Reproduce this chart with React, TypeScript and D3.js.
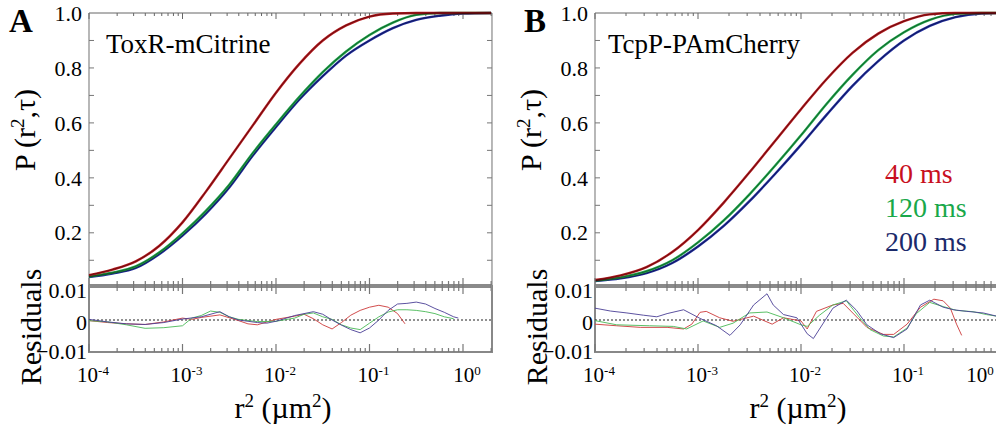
import { useEffect, useRef } from 'react';
import * as d3 from 'd3';

const W = 996;
const H = 428;
const FONT = "'Liberation Serif', 'Times New Roman', Times, serif";

// log10(r²) positions for the cumulative distribution curves
const cdfLogR2 = [-4, -3.75, -3.5, -3.25, -3, -2.75, -2.5, -2.25, -2, -1.75, -1.5, -1.25, -1, -0.75, -0.5, -0.25, 0, 0.3];

// panel A, ToxR-mCitrine
const cdfA40 = [0.046, 0.066, 0.096, 0.152, 0.238, 0.35, 0.47, 0.59, 0.71, 0.815, 0.9, 0.955, 0.987, 0.998, 1, 1, 1, 1];
const cdfA120 = [0.041, 0.055, 0.078, 0.128, 0.198, 0.28, 0.375, 0.49, 0.595, 0.695, 0.785, 0.86, 0.92, 0.965, 0.993, 1, 1, 1];
const cdfA200 = [0.039, 0.052, 0.072, 0.122, 0.19, 0.27, 0.365, 0.48, 0.585, 0.685, 0.77, 0.845, 0.9, 0.945, 0.975, 0.99, 0.998, 1];

// panel B, TcpP-PAmCherry
const cdfB40 = [0.028, 0.045, 0.075, 0.13, 0.21, 0.31, 0.42, 0.535, 0.65, 0.76, 0.855, 0.925, 0.97, 0.995, 1, 1, 1, 1];
const cdfB120 = [0.026, 0.038, 0.06, 0.1, 0.165, 0.245, 0.34, 0.445, 0.555, 0.67, 0.775, 0.865, 0.93, 0.975, 0.997, 1, 1, 1];
const cdfB200 = [0.024, 0.034, 0.053, 0.09, 0.15, 0.225, 0.315, 0.415, 0.52, 0.63, 0.735, 0.825, 0.9, 0.953, 0.985, 0.998, 1, 1];

// residuals, values in units of 1e-3
const resA40X = [-4, -3.8, -3.6, -3.4, -3.2, -3.0, -2.9, -2.8, -2.6, -2.4, -2.3, -2.2, -2.0, -1.8, -1.7, -1.6, -1.5, -1.4, -1.3, -1.2, -1.1, -1.0, -0.9, -0.8, -0.7, -0.62];
const resA40 = [-0.2, -0.8, -1.2, -1.4, -0.6, 0.6, 0.2, 0.8, 1.6, -0.2, -1.2, -1.5, 0.2, 1.2, 1.8, 0.4, -1.5, -2.8, -0.8, 1.5, 3.0, 4.0, 4.6, 4.0, 2.0, -1.2];
const resA120X = [-4, -3.8, -3.6, -3.4, -3.2, -3.0, -2.9, -2.8, -2.7, -2.6, -2.5, -2.4, -2.2, -2.0, -1.8, -1.7, -1.6, -1.5, -1.4, -1.3, -1.2, -1.1, -1.0, -0.9, -0.8, -0.7, -0.6, -0.5, -0.4, -0.3, -0.2, -0.1];
const resA120 = [-0.2, -0.6, -1.5, -2.6, -2.4, -1.8, 0.6, 1.4, 2.8, 2.4, 1.0, 0.2, -0.5, -0.4, 0.6, 1.8, 2.2, 1.0, 0.2, -1.5, -2.5, -3.0, -1.0, 1.0, 2.5, 3.2, 3.2, 3.0, 2.6, 2.0, 1.0, 0.4];
const resA200X = [-4, -3.8, -3.6, -3.4, -3.2, -3.0, -2.8, -2.6, -2.5, -2.4, -2.2, -2.1, -2.0, -1.8, -1.6, -1.5, -1.4, -1.3, -1.2, -1.1, -1.0, -0.9, -0.8, -0.7, -0.6, -0.5, -0.4, -0.3, -0.2, -0.1, -0.05];
const resA200 = [0.2, -0.6, -1.2, -1.4, -0.8, 0.3, 1.0, 2.6, 1.0, 0.0, -0.8, -1.0, -0.4, 1.4, 2.6, 1.8, 0.0, -1.6, -3.0, -4.0, -2.5, 0.0, 3.0, 5.0, 5.2, 5.6, 5.0, 3.6, 2.4, 1.0, 0.6];

const resB40X = [-4, -3.79, -3.56, -3.3, -3.14, -3.06, -2.98, -2.92, -2.79, -2.66, -2.46, -2.28, -2.17, -2.0, -1.94, -1.85, -1.69, -1.59, -1.43, -1.36, -1.2, -1.1, -0.97, -0.84, -0.71, -0.62, -0.55, -0.49, -0.44];
const resB40 = [-1.3, -1.8, -2.3, -2.3, -2.8, -1.3, 2.4, 2.7, 0.7, -0.4, 1.2, -1.3, 0.7, -0.3, -2.8, 2.7, 4.7, 5.2, 0.0, -2.3, -4.5, -4.5, -1.3, 4.0, 6.5, 6.0, 3.7, -1.3, -4.8];
const resB120X = [-4, -3.79, -3.47, -3.24, -3.11, -2.95, -2.79, -2.66, -2.5, -2.33, -2.17, -2.0, -1.94, -1.82, -1.69, -1.56, -1.43, -1.33, -1.2, -1.1, -0.97, -0.88, -0.75, -0.62, -0.49, -0.33, -0.2, -0.1];
const resB120 = [-0.2, -1.5, -1.8, -2.0, -2.8, -0.3, -2.3, -1.0, 2.2, 2.5, 0.7, -1.5, -2.0, 1.5, 4.7, 6.0, 0.7, -3.0, -5.0, -5.3, -2.5, 2.0, 5.5, 4.2, 3.0, 2.6, 1.7, 1.2];
const resB200X = [-4, -3.85, -3.69, -3.53, -3.4, -3.3, -3.14, -2.98, -2.82, -2.69, -2.59, -2.46, -2.33, -2.27, -2.17, -2.04, -1.94, -1.88, -1.75, -1.69, -1.56, -1.46, -1.36, -1.23, -1.1, -0.97, -0.84, -0.75, -0.62, -0.52, -0.39, -0.23, -0.1];
const resB200 = [3.7, 2.8, 2.2, 1.5, 1.0, 2.0, 3.2, 0.5, -1.8, -4.8, -1.5, 4.7, 8.2, 4.7, 1.7, 0.7, -4.3, -5.8, 0.7, 3.7, 6.2, 3.0, -1.5, -4.3, -5.5, -2.8, 4.7, 6.2, 4.0, 3.2, 2.7, 2.2, 1.2];

const lagLabels = ['40 ms', '120 ms', '200 ms'];
const yTickValues = [0.2, 0.4, 0.6, 0.8, 1.0];
const resTickValues = [0.01, 0, -0.01];

const lineColors = ['#b3171c', '#1fa54a', '#1f2b9c'];
const resColors = ['#cc3a3a', '#49b956', '#4a3f96'];
const legendColors = ['#c8101e', '#19a84a', '#1b2a6b'];

const panels = [
  {
    letter: 'A', letterX: 9, title: 'ToxR-mCitrine', titleX: 106, x0: 89, decade: 93.5,
    yLabelX: 35, xLabelX: 283,
    cdf: [cdfA40, cdfA120, cdfA200],
    res: [[resA40X, resA40], [resA120X, resA120], [resA200X, resA200]],
    legend: false,
  },
  {
    letter: 'B', letterX: 524, title: 'TcpP-PAmCherry', titleX: 608, x0: 595, decade: 103,
    yLabelX: 541, xLabelX: 798,
    cdf: [cdfB40, cdfB120, cdfB200],
    res: [[resB40X, resB40], [resB120X, resB120], [resB200X, resB200]],
    legend: true,
  },
];

const TOP = 13;
const SEP = 285;
const RES_BOTTOM = 352;

const App = () => {
  const svgRef = useRef<SVGSVGElement>(null);

  useEffect(() => {
    const svg = d3.select(svgRef.current);
    svg.selectAll('*').remove();

    const yTop = d3.scaleLinear().domain([0.01, 1]).range([SEP, TOP]);
    const yRes = d3.scaleLinear().domain([-0.01, 0.01]).range([RES_BOTTOM, 288]);

    panels.forEach((p) => {
      const xEnd = p.x0 + 4.31 * p.decade;
      const x = d3.scaleLog().domain([1e-4, Math.pow(10, 0.31)]).range([p.x0, xEnd]);
      const g = svg.append('g').attr('font-family', FONT);
      const ticks = x.ticks();
      const isMajor = (t: number) => Math.abs(Math.log10(t) - Math.round(Math.log10(t))) < 1e-6;

      // upper frame
      g.append('line').attr('x1', p.x0).attr('x2', xEnd).attr('y1', TOP).attr('y2', TOP)
        .attr('stroke', '#666').attr('stroke-width', 1);
      g.append('line').attr('x1', p.x0).attr('x2', p.x0).attr('y1', TOP).attr('y2', SEP)
        .attr('stroke', '#888').attr('stroke-width', 1.2);
      g.append('line').attr('x1', xEnd).attr('x2', xEnd).attr('y1', TOP).attr('y2', SEP)
        .attr('stroke', '#888').attr('stroke-width', 1.2);

      g.selectAll('.ttick').data(ticks).enter().append('line')
        .attr('x1', (d) => x(d)).attr('x2', (d) => x(d))
        .attr('y1', TOP).attr('y2', (d) => TOP + (isMajor(d) ? 6 : 3))
        .attr('stroke', '#666').attr('stroke-width', 1);

      const yMinor = d3.range(0.1, 1.0, 0.1);
      g.selectAll('.ltick').data(yMinor).enter().append('line')
        .attr('x1', p.x0).attr('x2', p.x0 + 5)
        .attr('y1', (d) => yTop(d)).attr('y2', (d) => yTop(d))
        .attr('stroke', '#777');
      g.selectAll('.rtick').data(yMinor).enter().append('line')
        .attr('x1', xEnd).attr('x2', xEnd - 5)
        .attr('y1', (d) => yTop(d)).attr('y2', (d) => yTop(d))
        .attr('stroke', '#777');

      g.selectAll('.ylab').data(yTickValues).enter().append('text')
        .attr('x', p.x0 - 7).attr('y', (d) => yTop(d)).attr('dy', '0.35em')
        .attr('text-anchor', 'end').attr('font-size', 22)
        .text((d) => d3.format('.1f')(d));

      // cumulative distribution curves
      const line = d3.line<number>()
        .x((_, i) => x(Math.pow(10, cdfLogR2[i])))
        .y((d) => yTop(d))
        .curve(d3.curveMonotoneX);
      [2, 1, 0].forEach((k) => {
        g.append('path').attr('d', line(p.cdf[k])).attr('fill', 'none')
          .attr('stroke', lineColors[k]).attr('stroke-width', 2.4);
      });
      [2, 1, 0].forEach((k) => {
        g.append('path').attr('d', line(p.cdf[k])).attr('fill', 'none')
          .attr('stroke', '#000').attr('stroke-opacity', 0.5).attr('stroke-width', 0.8);
      });

      // separator bar with ticks
      g.append('line').attr('x1', p.x0).attr('x2', xEnd).attr('y1', SEP + 1).attr('y2', SEP + 1)
        .attr('stroke', '#8a8a8a').attr('stroke-width', 4);
      g.selectAll('.stick').data(ticks).enter().append('line')
        .attr('x1', (d) => x(d)).attr('x2', (d) => x(d))
        .attr('y1', (d) => SEP + 1 - (isMajor(d) ? 8 : 5)).attr('y2', (d) => SEP + 1 + (isMajor(d) ? 8 : 5))
        .attr('stroke', '#777').attr('stroke-width', 1.2);

      // residual frame
      g.append('line').attr('x1', p.x0).attr('x2', p.x0).attr('y1', SEP).attr('y2', RES_BOTTOM)
        .attr('stroke', '#888').attr('stroke-width', 2);
      g.append('line').attr('x1', xEnd).attr('x2', xEnd).attr('y1', SEP).attr('y2', RES_BOTTOM)
        .attr('stroke', '#888').attr('stroke-width', 2);
      g.append('line').attr('x1', p.x0 - 1).attr('x2', xEnd + 1).attr('y1', RES_BOTTOM).attr('y2', RES_BOTTOM)
        .attr('stroke', '#888').attr('stroke-width', 2);
      g.selectAll('.btick').data(ticks).enter().append('line')
        .attr('x1', (d) => x(d)).attr('x2', (d) => x(d))
        .attr('y1', RES_BOTTOM).attr('y2', (d) => RES_BOTTOM - (isMajor(d) ? 8 : 4))
        .attr('stroke', '#777').attr('stroke-width', 1.2);

      g.append('line').attr('x1', p.x0).attr('x2', xEnd).attr('y1', yRes(0)).attr('y2', yRes(0))
        .attr('stroke', '#222').attr('stroke-width', 1.1).attr('stroke-dasharray', '2,2');

      const resLine = d3.line<[number, number]>()
        .x((d) => x(Math.pow(10, d[0])))
        .y((d) => yRes(d[1] / 1000));
      p.res.forEach(([xs, ys], k) => {
        const pts = xs.map((v, i) => [v, ys[i]] as [number, number]);
        g.append('path').attr('d', resLine(pts)).attr('fill', 'none')
          .attr('stroke', resColors[k]).attr('stroke-width', 1).attr('stroke-opacity', 0.9);
      });

      g.selectAll('.rlab').data(resTickValues).enter().append('text')
        .attr('x', p.x0 - 2).attr('y', (d) => yRes(d) + (d < 0 ? -1 : 2)).attr('dy', '0.35em')
        .attr('text-anchor', 'end').attr('font-size', 22)
        .text((d) => (d === 0 ? '0' : d3.format('.2f')(d)));

      // x tick labels 10^n
      const majors = ticks.filter(isMajor);
      majors.forEach((t) => {
        const e = Math.round(Math.log10(t));
        const cx = Math.min(x(t) + 4, W - 16);
        const txt = g.append('text').attr('x', cx).attr('y', 382)
          .attr('text-anchor', 'middle').attr('font-size', 21);
        txt.append('tspan').text('10');
        txt.append('tspan').attr('dy', -7).attr('font-size', 13).text(String(e));
      });

      // axis titles
      const xt = g.append('text').attr('x', p.xLabelX).attr('y', 418).attr('text-anchor', 'middle')
        .attr('font-size', 30);
      xt.append('tspan').text('r');
      xt.append('tspan').attr('dy', -11).attr('font-size', 19).text('2');
      xt.append('tspan').attr('dy', 11).text(' (\u00b5m');
      xt.append('tspan').attr('dy', -11).attr('font-size', 19).text('2');
      xt.append('tspan').attr('dy', 11).text(')');

      const yt = g.append('text').attr('transform', `translate(${p.yLabelX},130) rotate(-90)`)
        .attr('text-anchor', 'middle').attr('font-size', 30);
      yt.append('tspan').text('P (r');
      yt.append('tspan').attr('dy', -11).attr('font-size', 19).text('2');
      yt.append('tspan').attr('dy', 11).text(',\u03c4)');

      g.append('text').attr('transform', `translate(${p.yLabelX + 6},327) rotate(-90)`)
        .attr('text-anchor', 'middle').attr('font-size', 30)
        .text('Residuals');

      g.append('text').attr('x', p.letterX).attr('y', 32)
        .attr('font-size', 33).attr('font-weight', 'bold').text(p.letter);
      g.append('text').attr('x', p.titleX).attr('y', 53)
        .attr('font-size', 27).text(p.title);

      if (p.legend) {
        lagLabels.forEach((lab, k) => {
          g.append('text').attr('x', 885).attr('y', 183 + k * 34)
            .attr('font-size', 28).attr('fill', legendColors[k]).text(lab);
        });
      }
    });
  }, []);

  return (
    <svg ref={svgRef} width={W} height={H}
      style={{ position: 'absolute', left: 0, top: 0, background: '#fff' }} />
  );
};

export default App;
